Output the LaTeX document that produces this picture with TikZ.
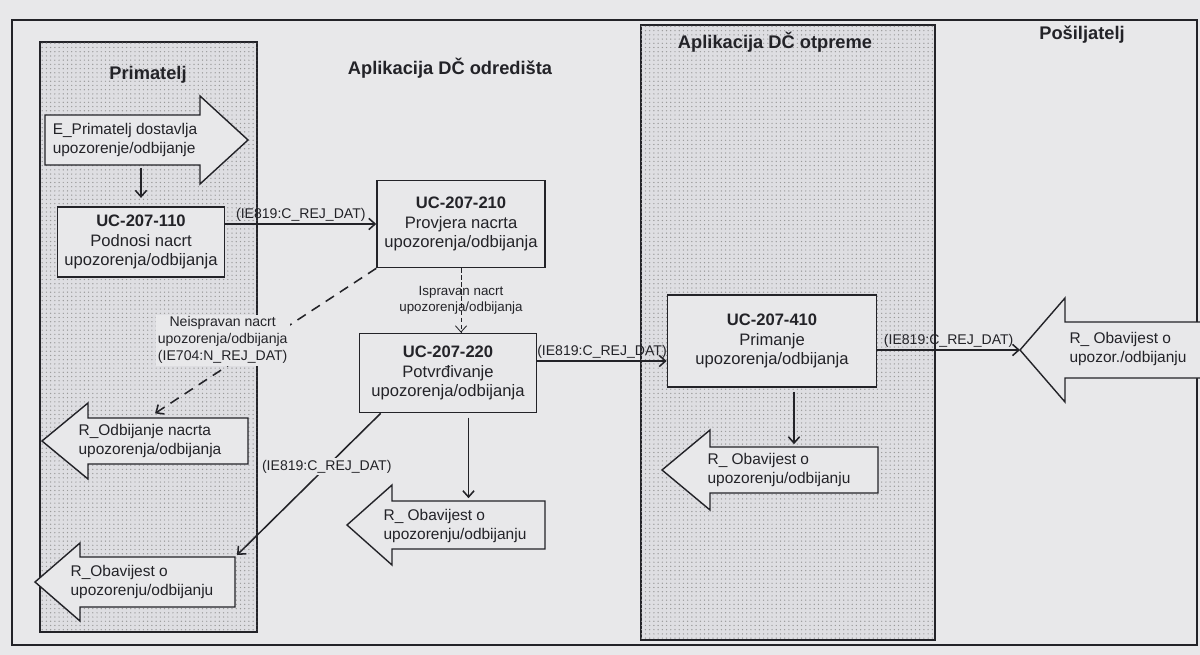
\documentclass[tikz,border=0pt]{standalone}
\usepackage{fontspec}
\setmainfont{Liberation Sans}
\usetikzlibrary{arrows.meta,patterns}

\definecolor{paper}{RGB}{232,232,234}
\definecolor{lanegray}{RGB}{222,222,226}
\definecolor{ink}{RGB}{35,35,40}

% block arrow pointing left: name, tip x, neck x, tail x, mid y, body half, head half
\newcommand{\leftblock}[7]{%
  \draw[blockarr] (#2,#5) -- (#3,#5-#7) -- (#3,#5-#6) -- (#4,#5-#6)
    -- (#4,#5+#6) -- (#3,#5+#6) -- (#3,#5+#7) -- cycle;
  \coordinate (#1-tip) at (#2,#5);
  \coordinate (#1-top) at ({(#3+#4)/2},#5-#6);
  \coordinate (#1-ne) at (#4,#5-#6);
}
% block arrow pointing right: name, tail x, neck x, tip x, mid y, body half, head half
\newcommand{\rightblock}[7]{%
  \draw[blockarr] (#2,#5-#6) -- (#3,#5-#6) -- (#3,#5-#7) -- (#4,#5)
    -- (#3,#5+#7) -- (#3,#5+#6) -- (#2,#5+#6) -- cycle;
  \coordinate (#1-bot) at ({(#2+#3)/2},#5+#6);
}

\begin{document}
\begin{tikzpicture}[x=0.025cm, y=-0.025cm,
    frame/.style={draw=ink, line width=1pt},
    lane/.style={draw=ink, line width=1pt, fill=lanegray,
      postaction={pattern=dots, pattern color=gray!80}},
    title/.style={font=\fontsize{13}{15}\selectfont\bfseries, text=ink},
    ucbox/.style={draw=ink, fill=paper, line width=1pt, align=center,
      text=ink, font=\fontsize{11.8}{14}\selectfont, inner sep=2pt},
    blockarr/.style={draw=ink, fill=paper, line width=1pt, line join=miter},
    arrtext/.style={align=left, text=ink, font=\fontsize{11}{14}\selectfont, inner sep=1pt},
    lbl/.style={text=ink, font=\fontsize{10}{12}\selectfont, inner sep=1.5pt, align=center},
    conn/.style={draw=ink, line width=1.1pt, -{Straight Barb[length=4.5pt,width=8pt]}}]

    \useasboundingbox (0,0) rectangle (1200,655);
    \fill[paper] (0,0) rectangle (1200,655);

    % Draw frame and lanes
    \draw[frame] (12,20) rectangle (1197,645);
    \draw[lane] (40,42) rectangle (257,632);
    \draw[lane] (641,25) rectangle (935,640);

    \node[title] (tprim) at (148,75) {Primatelj};
    \node[title] (tdest) at (450,68) {Aplikacija DČ odredišta};
    \node[title] (tdisp) at (775,42) {Aplikacija DČ otpreme};
    \node[title] (tsend) at (1082,35) {Pošiljatelj};

    % Draw nodes
    \node[ucbox, minimum width=4.18cm, minimum height=1.75cm] (uc110) at (141,242)
        {\textbf{UC-207-110}\\Podnosi nacrt\\upozorenja/odbijanja};
    \node[ucbox, minimum width=4.2cm, minimum height=2.18cm] (uc210) at (461,224)
        {\textbf{UC-207-210}\\Provjera nacrta\\upozorenja/odbijanja};
    \node[ucbox, minimum width=4.43cm, minimum height=1.98cm] (uc220) at (448,373)
        {\textbf{UC-207-220}\\Potvrđivanje\\upozorenja/odbijanja};
    \node[ucbox, minimum width=5.23cm, minimum height=2.3cm] (uc410) at (772,341)
        {\textbf{UC-207-410}\\Primanje\\upozorenja/odbijanja};

    % Draw block arrows
    \rightblock{epr}{45}{200}{248}{140}{25}{44}
    \node[arrtext] (eprtxt) at (125,140) {E\_Primatelj dostavlja\\upozorenje/odbijanje};
    \leftblock{rodb}{42}{88}{248}{441}{23}{38}
    \node[arrtext] (rodbtxt) at (150,441) {R\_Odbijanje nacrta\\upozorenja/odbijanja};
    \leftblock{rlft}{35}{80}{235}{582}{25}{39}
    \node[arrtext] (rlfttxt) at (142,582) {R\_Obavijest o\\upozorenju/odbijanju};
    \leftblock{rmid}{347}{392}{545}{525}{24}{40}
    \node[arrtext] (rmidtxt) at (455,526) {R\_ Obavijest o\\upozorenju/odbijanju};
    \leftblock{rotp}{662}{710}{878}{470}{23}{40}
    \node[arrtext] (rotptxt) at (779,470) {R\_ Obavijest o\\upozorenju/odbijanju};
    \leftblock{rsnd}{1020}{1065}{1215}{350}{28}{52}
    \node[arrtext] (rsndtxt) at (1128,349) {R\_ Obavijest o\\upozor./odbijanju};

    % Draw edges
    \draw[conn, shorten <=2pt, shorten >=6pt] (uc110.north |- epr-bot) -- (uc110.north);
    \draw[conn] (uc110.east |- uc210.west) -- node[lbl, above] (l1) {(IE819:C\_REJ\_DAT)} (uc210.west);
    \draw[conn, dash pattern=on 7pt off 5pt, shorten >=6pt] (uc210.south west)
        -- node[lbl, fill=paper, pos=0.48, xshift=-1.1cm] (l2)
        {Neispravan nacrt\\upozorenja/odbijanja\\(IE704:N\_REJ\_DAT)} ([xshift=-0.5cm]rodb-top);
    \draw[conn, line width=0.6pt, dash pattern=on 3pt off 2pt] (uc210.south)
        -- node[lbl, font=\fontsize{9.5}{11}\selectfont] (l3) {Ispravan nacrt\\upozorenja/odbijanja}
        (uc210.south |- uc220.north);
    \draw[conn] ([yshift=0.3cm]uc220.east) -- node[lbl, above] (l4) {(IE819:C\_REJ\_DAT)}
        ([yshift=0.3cm]uc220.east -| uc410.west);
    \draw[conn] (uc410.east |- rsnd-tip) -- node[lbl, above] (l5) {(IE819:C\_REJ\_DAT)} (rsnd-tip);
    \draw[conn, shorten <=3pt, shorten >=2pt] (rotp-top |- uc410.south) -- (rotp-top);
    \draw[conn, shorten <=3pt, shorten >=2pt] (rmid-top |- uc220.south) -- (rmid-top);
    \draw[conn, shorten >=2pt] ([xshift=0.55cm]uc220.south west)
        -- node[lbl, fill=paper, pos=0.37] (l6) {(IE819:C\_REJ\_DAT)} (rlft-ne);
\end{tikzpicture}
\end{document}
